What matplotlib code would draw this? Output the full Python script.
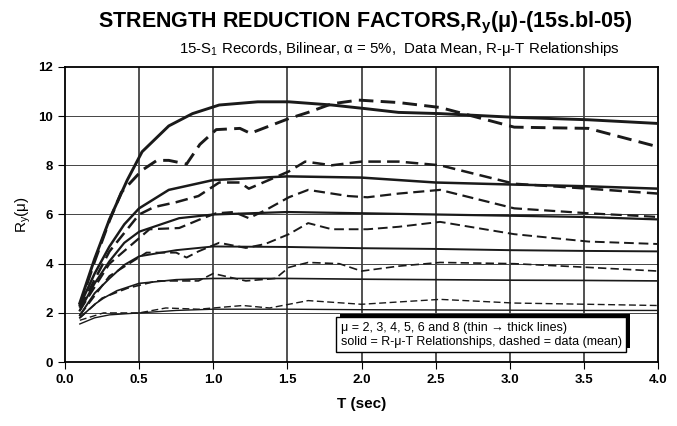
import matplotlib
matplotlib.use('Agg')
import matplotlib.pyplot as plt
import matplotlib.patheffects as pe

plt.rcParams['font.family'] = ['Liberation Sans', 'DejaVu Sans']
plt.rcParams['mathtext.fontset'] = 'custom'
plt.rcParams['mathtext.rm'] = 'Liberation Sans'
plt.rcParams['mathtext.it'] = 'Liberation Sans:italic'
plt.rcParams['mathtext.bf'] = 'Liberation Sans:bold'

mus = [2, 3, 4, 5, 6, 8]

# solid: R-mu-T relationships
t_solid = {
    2: [0.1, 0.2, 0.3, 0.5, 0.75, 1.0, 1.5, 2.0, 2.5, 3.0, 3.5, 4.0],
    3: [0.1, 0.2, 0.26, 0.35, 0.5, 0.75, 1.0, 1.5, 2.0, 2.5, 3.0, 3.5, 4.0],
    4: [0.1, 0.2, 0.3, 0.4, 0.5, 0.75, 1.0, 1.5, 2.0, 2.5, 3.0, 3.5, 4.0],
    5: [0.1, 0.2, 0.3, 0.4, 0.5, 0.77, 1.0, 1.5, 2.0, 2.5, 3.0, 3.5, 4.0],
    6: [0.1, 0.2, 0.3, 0.4, 0.5, 0.7, 1.0, 1.5, 2.0, 2.5, 3.0, 3.5, 4.0],
    8: [0.1, 0.2, 0.3, 0.42, 0.52, 0.7, 0.86, 1.04, 1.3, 1.51, 1.8, 2.03, 2.25, 2.53, 3.03, 3.53, 4.0],
}
r_solid = {
    2: [1.55, 1.8, 1.92, 2.0, 2.1, 2.15, 2.15, 2.13, 2.12, 2.11, 2.1, 2.1],
    3: [1.8, 2.35, 2.6, 2.9, 3.2, 3.35, 3.4, 3.4, 3.37, 3.35, 3.33, 3.32, 3.3],
    4: [1.9, 2.8, 3.4, 3.95, 4.3, 4.55, 4.7, 4.68, 4.63, 4.6, 4.55, 4.52, 4.5],
    5: [2.1, 3.2, 4.1, 4.85, 5.3, 5.85, 6.0, 6.1, 6.05, 6.0, 5.95, 5.9, 5.8],
    6: [2.3, 3.6, 4.7, 5.6, 6.25, 7.0, 7.4, 7.55, 7.5, 7.3, 7.22, 7.15, 7.05],
    8: [2.4, 4.2, 5.8, 7.4, 8.55, 9.6, 10.1, 10.45, 10.58, 10.58, 10.45, 10.3, 10.15, 10.1, 9.95, 9.85, 9.7],
}

# dashed: data (mean)
t_dash = {
    2: [0.1, 0.26, 0.5, 0.68, 0.9, 1.2, 1.38, 1.64, 2.0, 2.53, 3.03, 3.53, 4.0],
    3: [0.1, 0.25, 0.42, 0.62, 0.9, 1.0, 1.22, 1.42, 1.51, 1.64, 1.85, 2.0, 2.25, 2.53, 3.03, 3.53, 4.0],
    4: [0.1, 0.3, 0.55, 0.75, 0.82, 0.9, 1.04, 1.22, 1.35, 1.51, 1.64, 1.8, 2.04, 2.25, 2.53, 3.03, 3.53, 4.0],
    5: [0.1, 0.3, 0.57, 0.77, 0.93, 1.02, 1.14, 1.24, 1.36, 1.51, 1.64, 1.91, 2.04, 2.25, 2.53, 3.03, 3.53, 4.0],
    6: [0.1, 0.3, 0.5, 0.6, 0.75, 0.9, 1.04, 1.18, 1.24, 1.51, 1.62, 1.8, 2.0, 2.25, 2.53, 3.03, 3.53, 4.0],
    8: [0.1, 0.2, 0.3, 0.38, 0.52, 0.62, 0.7, 0.82, 0.91, 1.02, 1.18, 1.25, 1.51, 1.64, 1.8, 1.98, 2.25, 2.53, 3.03, 3.53, 4.0],
}
r_dash = {
    2: [1.7, 2.0, 2.0, 2.2, 2.15, 2.3, 2.2, 2.5, 2.35, 2.55, 2.4, 2.35, 2.3],
    3: [1.8, 2.6, 3.0, 3.3, 3.3, 3.6, 3.3, 3.4, 3.85, 4.05, 4.0, 3.7, 3.9, 4.05, 4.0, 3.85, 3.7],
    4: [1.9, 3.5, 4.45, 4.45, 4.25, 4.5, 4.85, 4.64, 4.8, 5.2, 5.65, 5.4, 5.4, 5.5, 5.7, 5.2, 4.9, 4.8],
    5: [2.1, 4.0, 5.4, 5.45, 5.85, 6.05, 6.1, 5.85, 6.2, 6.7, 7.0, 6.75, 6.7, 6.85, 7.0, 6.25, 6.05, 5.9],
    6: [2.2, 4.5, 6.0, 6.3, 6.5, 6.75, 7.3, 7.3, 7.05, 7.75, 8.15, 8.0, 8.15, 8.15, 8.0, 7.25, 7.05, 6.85],
    8: [2.3, 4.1, 5.75, 6.9, 7.8, 8.2, 8.2, 8.05, 8.85, 9.45, 9.5, 9.3, 9.9, 10.15, 10.5, 10.65, 10.55, 10.35, 9.55, 9.5, 8.75],
}

widths = {2: 1.0, 3: 1.2, 4: 1.4, 5: 1.6, 6: 1.8, 8: 2.1}

fig = plt.figure(figsize=(6.77, 4.26), dpi=100)
ax = fig.add_axes([0.096, 0.150, 0.876, 0.693])

ax.set_xlim(0, 4)
ax.set_ylim(0, 12)
ax.set_xticks([0, 0.5, 1.0, 1.5, 2.0, 2.5, 3.0, 3.5, 4.0])
ax.set_xticklabels(['0.0', '0.5', '1.0', '1.5', '2.0', '2.5', '3.0', '3.5', '4.0'])
ax.set_yticks([0, 2, 4, 6, 8, 10, 12])

for x in [0.5, 1.0, 1.5, 2.0, 2.5, 3.0, 3.5]:
    ax.axvline(x, color='#222222', lw=1.1, zorder=1)
for y in [2, 4, 6, 8, 10]:
    ax.axhline(y, color='#444444', lw=0.7, zorder=1)

for m in mus:
    ax.plot(t_solid[m], r_solid[m], color='#1a1a1a', lw=widths[m], zorder=3)
    ax.plot(t_dash[m], r_dash[m], color='#1a1a1a', lw=widths[m], ls=(0, (5, 2.5)), zorder=3)

for s in ax.spines.values():
    s.set_linewidth(1.3)
ax.tick_params(direction='out', length=5, width=0.8, labelsize=9.5)
for lab in ax.get_xticklabels() + ax.get_yticklabels():
    lab.set_fontweight('bold')

ax.set_xlabel('T (sec)', fontsize=11, fontweight='bold', labelpad=8)
ax.set_ylabel(r'R$_\mathregular{y}$(μ)', fontsize=11, labelpad=4)

fig.text(0.54, 0.945, r'STRENGTH REDUCTION FACTORS,R$_\mathbf{y}$(μ)-(15s.bl-05)',
         ha='center', va='center', fontsize=15.5, fontweight='bold')
fig.text(0.59, 0.885, r'15-S$_\mathregular{1}$ Records, Bilinear, α = 5%,  Data Mean, R-μ-T Relationships',
         ha='center', va='center', fontsize=10.8)

txt = ax.text(0.465, 0.093,
              'μ = 2, 3, 4, 5, 6 and 8 (thin → thick lines)\n'
              'solid = R-μ-T Relationships, dashed = data (mean)',
              transform=ax.transAxes, ha='left', va='center', fontsize=9.0,
              linespacing=1.2, zorder=5,
              bbox=dict(boxstyle='square,pad=0.35', fc='white', ec='black', lw=1))
txt.get_bbox_patch().set_path_effects([
    pe.SimplePatchShadow(offset=(2.5, 2.5), shadow_rgbFace='black', alpha=1.0),
    pe.Normal()])

fig.savefig('out.png', dpi=100)
